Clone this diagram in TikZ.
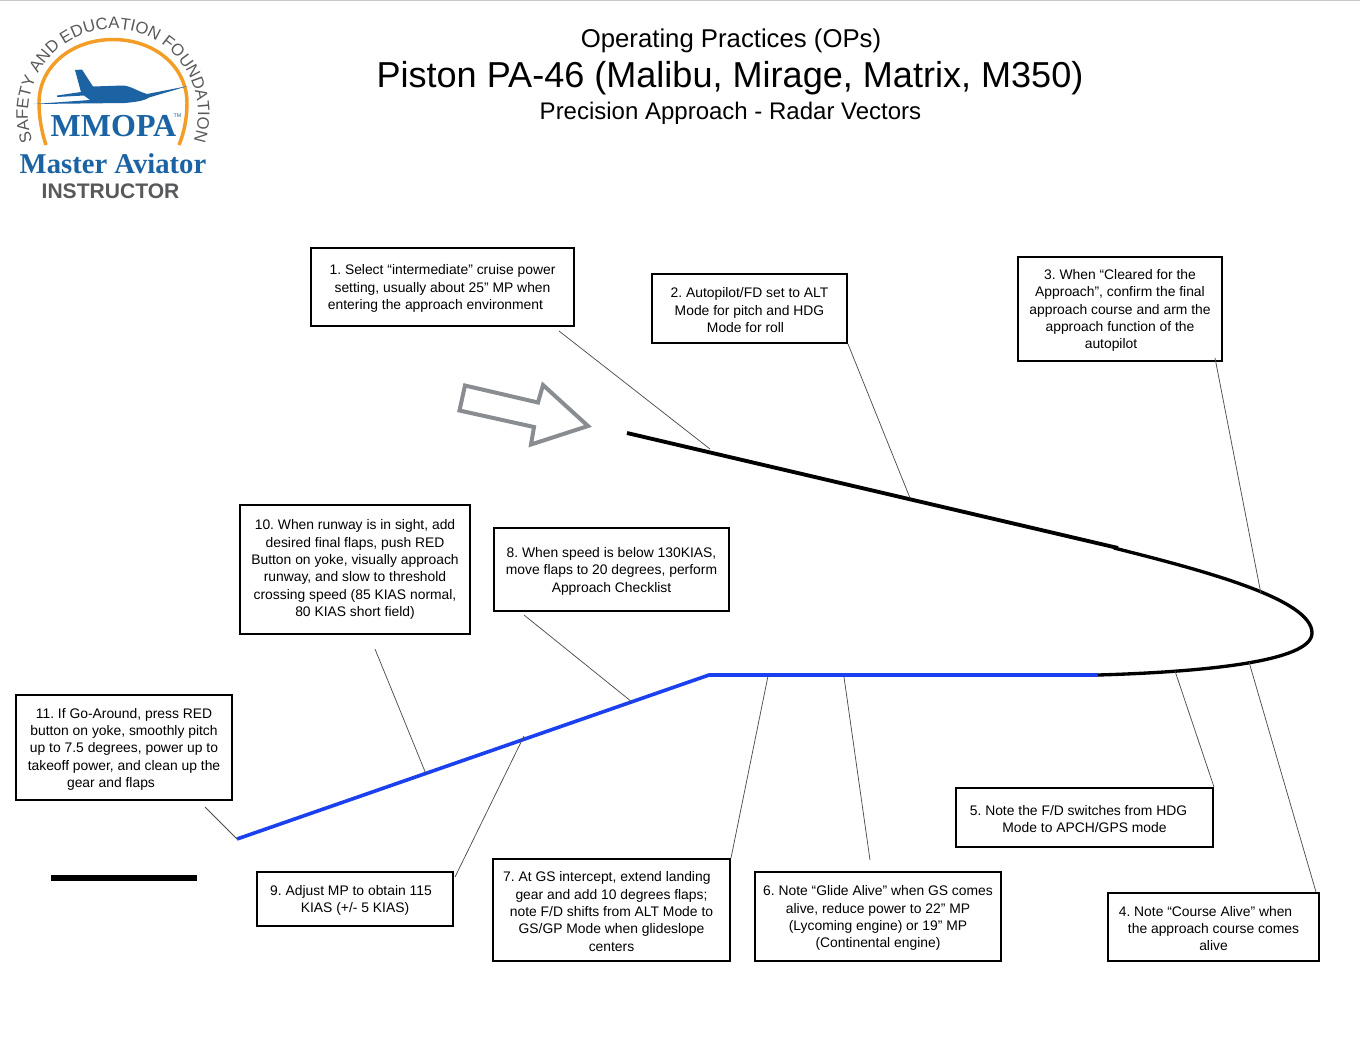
\documentclass[tikz,border=0pt]{standalone}
\usepackage{fontspec}
\setmainfont{Liberation Sans}
\newfontfamily\logoserif{Liberation Serif}
\usetikzlibrary{decorations.text}
\definecolor{logoblue}{HTML}{1B63A3}
\definecolor{logoorange}{HTML}{F39C26}
\definecolor{logogray}{HTML}{58595B}
\definecolor{arrowgray}{HTML}{898C91}
\definecolor{pathblue}{HTML}{1A40F0}
\newcommand\topfix{\rule{0pt}{10pt}}
\tikzset{
  notebox/.style={draw=black,line width=1.5pt,align=center,inner sep=0pt,
    font=\frenchspacing\fontsize{10.4pt}{13pt}\selectfont},
  leader/.style={draw=black!70,line width=.55pt},
  pathblack/.style={draw=black,line width=2.9pt},
  pathcurve/.style={draw=black,line width=2.5pt},
  pathfinal/.style={draw=pathblue,line width=2.7pt},
  titlefont/.style={font=\fontsize{19.3pt}{24pt}\selectfont,inner sep=0pt},
  plane/.style={fill=logoblue,draw=none}
}
\begin{document}
\begin{tikzpicture}[x=.75pt,y=-.75pt]
\useasboundingbox (0,0) rectangle (1360,1051);
\draw[black!22,line width=1.2pt] (0,.5) -- (1360,.5);

% Titles
\node[titlefont] (t1) at (731,41) {Operating Practices (OPs)};
\node[titlefont,font=\fontsize{27.05pt}{32pt}\selectfont] (t2) at (730,78) {Piston PA-46 (Malibu, Mirage, Matrix, M350)};
\node[titlefont,font=\fontsize{18pt}{22pt}\selectfont] (t3) at (730.5,113) {Precision Approach - Radar Vectors};

% Logo
\draw[logoorange,line width=2.6pt] (46,145) .. controls (42,133) and (39,118) .. (39,103) .. controls (39,66) and (72,39.5) .. (113,39.5) .. controls (154,39.5) and (187,66) .. (187,103) .. controls (187,118) and (184,133) .. (179,145);
\begin{scope}[shift={(113,114)},x=.75pt,y=.75pt]
\path[decorate,decoration={text along path,text align=center,
  text={|\fontsize{12.5pt}{14pt}\selectfont\color{logogray}|SAFETY AND EDUCATION FOUNDATION}}]
  (197:85) arc[start angle=197,end angle=-17,radius=85];
\end{scope}
\fill[plane] (75,70) -- (82,69.5) -- (93,86.5) -- (123,85.5) .. controls (131,86) and (137,91) .. (147,94) -- (188,86) -- (149,97.5) .. controls (144,101) and (135,102) .. (125,103) -- (34,104) -- (90,100) -- (84,95.5) -- (57,97) -- (57,95.5) -- (81,92) -- cycle;
\node[inner sep=0pt,text=logoblue,font=\logoserif\bfseries\fontsize{24pt}{26pt}\selectfont] (mm) at (113.5,126) {MMOPA};
\node[inner sep=0pt,text=logoblue,font=\fontsize{4pt}{5pt}\selectfont] (tm) at (177.5,116) {TM};
\node[inner sep=0pt,text=logoblue,font=\logoserif\bfseries\fontsize{21.5pt}{24pt}\selectfont] (ma) at (113,164) {Master Aviator};
\node[inner sep=0pt,text=logogray,font=\bfseries\fontsize{15.8pt}{18pt}\selectfont] (ins) at (110.5,191.5) {INSTRUCTOR};

% Outline arrow
\draw[arrowgray,line width=3pt,miter limit=10] (465,385.5) -- (538,402.5) -- (543,385) -- (588,426) -- (531,444.5) -- (534,427) -- (459.5,410.5) -- cycle;

% Flight path
\coordinate (p0) at (627,433);
\coordinate (p1) at (1118,548);
\coordinate (p2) at (1312,633);
\coordinate (p3) at (1098,675);
\coordinate (p4) at (709,675);
\coordinate (p5) at (237,839);
\draw[pathfinal] (p3) -- (p4) -- (p5);
\draw[pathblack] (p0) -- (p1);
\draw[pathcurve] (1114,548) .. controls (1210,572) and (1312,600) .. (p2) .. controls (1312,662) and (1200,672) .. (p3);
\coordinate (rw1) at (51,878);
\coordinate (rw2) at (197,878);
\draw[black,line width=4.2pt] (rw1) -- (rw2);

% Note boxes
\node[notebox,minimum width=263*.75pt,minimum height=78*.75pt] (b1) at (442.5,287) {\topfix1. Select “intermediate” cruise power\\setting, usually about 25” MP when\\entering the approach environment\hspace*{10.5pt}};
\node[notebox,minimum width=195*.75pt,minimum height=69*.75pt] (b2) at (749.5,308.5) {\topfix2. Autopilot/FD set to ALT\\Mode for pitch and HDG\\Mode for roll\hspace*{6pt}};
\node[notebox,minimum width=204*.75pt,minimum height=104*.75pt] (b3) at (1120,309) {\topfix3. When “Cleared for the\\Approach”, confirm the final\\approach course and arm the\\approach function of the\\autopilot\hspace*{13.5pt}};
\node[notebox,minimum width=211*.75pt,minimum height=68*.75pt] (b4) at (1213.5,927) {\topfix4. Note “Course Alive” when\hspace*{12pt}\\the approach course comes\\alive};
\node[notebox,minimum width=257*.75pt,minimum height=59*.75pt] (b5) at (1084.5,817.5) {\topfix5. Note the F/D switches from HDG\hspace*{9pt}\\Mode to APCH/GPS mode};
\node[notebox,minimum width=246*.75pt,minimum height=89*.75pt] (b6) at (878,916.5) {\topfix6. Note “Glide Alive” when GS comes\\alive, reduce power to 22” MP\\(Lycoming engine) or 19” MP\\(Continental engine)};
\node[notebox,minimum width=237*.75pt,minimum height=102*.75pt] (b7) at (611.5,910) {\topfix7. At GS intercept, extend landing\hspace*{7pt}\\gear and add 10 degrees flaps;\\note F/D shifts from ALT Mode to\\GS/GP Mode when glideslope\\centers};
\node[notebox,minimum width=235*.75pt,minimum height=83*.75pt] (b8) at (611.5,569.5) {\topfix8. When speed is below 130KIAS,\\move flaps to 20 degrees, perform\\Approach Checklist};
\node[notebox,minimum width=196*.75pt,minimum height=54*.75pt] (b9) at (355,899) {\topfix9. Adjust MP to obtain 115\hspace*{6pt}\\KIAS (+/- 5 KIAS)};
\node[notebox,minimum width=230*.75pt,minimum height=129*.75pt] (b10) at (355,569.5) {10. When runway is in sight, add\\desired final flaps, push RED\\Button on yoke, visually approach\\runway, and slow to threshold\\crossing speed (85 KIAS normal,\\80 KIAS short field)};
\node[notebox,minimum width=216*.75pt,minimum height=105*.75pt] (b11) at (124,747.5) {\topfix11. If Go-Around, press RED\\button on yoke, smoothly pitch\\up to 7.5 degrees, power up to\\takeoff power, and clean up the\\gear and flaps\hspace*{19.5pt}};

% Leader ends
\coordinate (a1) at (559,331);  \coordinate (e1) at (710,449);
\coordinate (e2) at (910,498);
\coordinate (a3) at (1215,358); \coordinate (e3) at (1261,594);
\coordinate (a4) at (1316,892); \coordinate (e4) at (1249,662);
\coordinate (e5) at (1175,671);
\coordinate (a6) at (870,860);  \coordinate (e6) at (844,677);
\coordinate (e7) at (768,676);
\coordinate (a8) at (524,615);  \coordinate (e8) at (632,702);
\coordinate (a9) at (455,877);  \coordinate (e9) at (524,736);
\coordinate (a10) at (375,649); \coordinate (e10) at (426,774);
\coordinate (a11) at (205,807);

\draw[leader] (a1) -- (e1);
\draw[leader] (b2.south east) -- (e2);
\draw[leader] (a3) -- (e3);
\draw[leader] (a4) -- (e4);
\draw[leader] (b5.north east) -- (e5);
\draw[leader] (a6) -- (e6);
\draw[leader] (b7.north east) -- (e7);
\draw[leader] (a8) -- (e8);
\draw[leader] (a9) -- (e9);
\draw[leader] (a10) -- (e10);
\draw[leader] (a11) -- (p5);
\end{tikzpicture}
\end{document}
